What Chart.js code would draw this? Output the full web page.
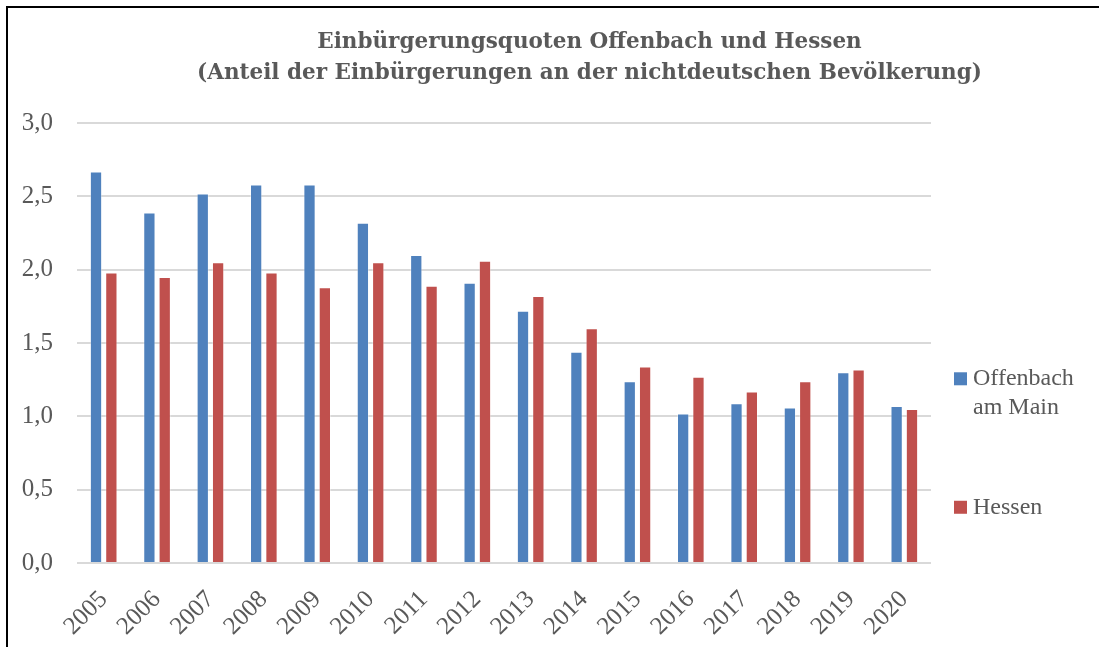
<!DOCTYPE html>
<html>
<head>
<meta charset="utf-8">
<script src="https://cdn.jsdelivr.net/npm/chart.js@4.4.0/dist/chart.umd.min.js"></script>
<style>
  html, body { margin: 0; padding: 0; background: #fff; }
  #wrap { position: relative; width: 1099px; height: 647px; overflow: hidden; }
  #frame { position: absolute; left: 6px; top: 6px; width: 1200px; height: 800px;
           border-left: 2px solid #000; border-top: 2px solid #000; pointer-events: none; }
  canvas { position: absolute; left: 0; top: 0; }
</style>
</head>
<body>
<div id="wrap">
  <canvas id="c" width="1099" height="647"></canvas>
  <div id="frame"></div>
</div>
<script>
const categories = ["2005","2006","2007","2008","2009","2010","2011","2012","2013","2014","2015","2016","2017","2018","2019","2020"];
const offenbach = [2.67, 2.39, 2.52, 2.58, 2.58, 2.32, 2.10, 1.91, 1.72, 1.44, 1.24, 1.02, 1.09, 1.06, 1.30, 1.07];
const hessen    = [1.98, 1.95, 2.05, 1.98, 1.88, 2.05, 1.89, 2.06, 1.82, 1.60, 1.34, 1.27, 1.17, 1.24, 1.32, 1.05];
const seriesNames = [["Offenbach", "am Main"], ["Hessen"]];
const yTicks = [0, 0.5, 1.0, 1.5, 2.0, 2.5, 3.0];
const titleLines = ["Einbürgerungsquoten Offenbach und Hessen", "(Anteil der Einbürgerungen an der nichtdeutschen Bevölkerung)"];

const TEXT = '#595959';
const FONT = 'Liberation Serif';
const BLUE = '#4F81BD', RED = '#C0504D';

const titlePlugin = {
  id: 'sideTitle',
  afterDraw(chart) {
    const ctx = chart.ctx;
    ctx.save();
    ctx.font = 'bold 21.5px "DejaVu Serif"';
    ctx.fillStyle = TEXT;
    ctx.textAlign = 'center';
    ctx.textBaseline = 'middle';
    const cx = chart.width / 2 + 40;
    titleLines.forEach((l, i) => ctx.fillText(l, cx, 42 + i * 31));
    ctx.restore();
  }
};

const legendPlugin = {
  id: 'sideLegend',
  afterDraw(chart) {
    const ctx = chart.ctx;
    const area = chart.chartArea;
    const y = chart.scales.y;
    ctx.save();
    ctx.font = '24px "' + FONT + '"';
    ctx.textBaseline = 'middle';
    const bx = area.right + 23;
    const items = [
      { color: BLUE, lines: seriesNames[0], v: 1.256 },
      { color: RED, lines: seriesNames[1], v: 0.38 }
    ];
    items.forEach(it => {
      const cy = y.getPixelForValue(it.v);
      ctx.fillStyle = it.color;
      ctx.fillRect(bx, cy - 6.5, 13, 13);
      ctx.fillStyle = TEXT;
      it.lines.forEach((l, i) => ctx.fillText(l, bx + 19, cy + i * 29));
    });
    ctx.restore();
  }
};

new Chart(document.getElementById('c'), {
  type: 'bar',
  data: {
    labels: categories,
    datasets: [
      { label: seriesNames[0].join(' '), data: offenbach, backgroundColor: BLUE,
        borderColor: 'rgba(255,255,255,0.35)', borderWidth: 1,
        categoryPercentage: 0.575, barPercentage: 0.8 },
      { label: seriesNames[1].join(' '), data: hessen, backgroundColor: RED,
        borderColor: 'rgba(255,255,255,0.35)', borderWidth: 1,
        categoryPercentage: 0.575, barPercentage: 0.8 }
    ]
  },
  options: {
    responsive: false,
    animation: false,
    layout: { padding: { left: 20, right: 168, top: 123, bottom: 0 } },
    plugins: {
      legend: { display: false },
      tooltip: { enabled: false },
      title: { display: false }
    },
    scales: {
      x: {
        grid: { display: false },
        border: { display: false },
        ticks: { color: TEXT, font: { family: FONT, size: 25 }, minRotation: 45, maxRotation: 45, padding: 14 },
        afterFit(scale) { scale.paddingLeft = 0; scale.paddingRight = 0; scale.height = 84; }
      },
      y: {
        min: 0, max: 3,
        afterBuildTicks(axis) { axis.ticks = yTicks.map(v => ({ value: v })); },
        grid: { color: '#D9D9D9', lineWidth: 2, drawTicks: false },
        border: { display: false },
        ticks: {
          color: TEXT, font: { family: FONT, size: 25 }, padding: 24,
          callback: v => Number(v).toFixed(1).replace('.', ',')
        },
        afterFit(scale) { scale.width = 57; }
      }
    }
  },
  plugins: [titlePlugin, legendPlugin]
});
</script>
</body>
</html>
